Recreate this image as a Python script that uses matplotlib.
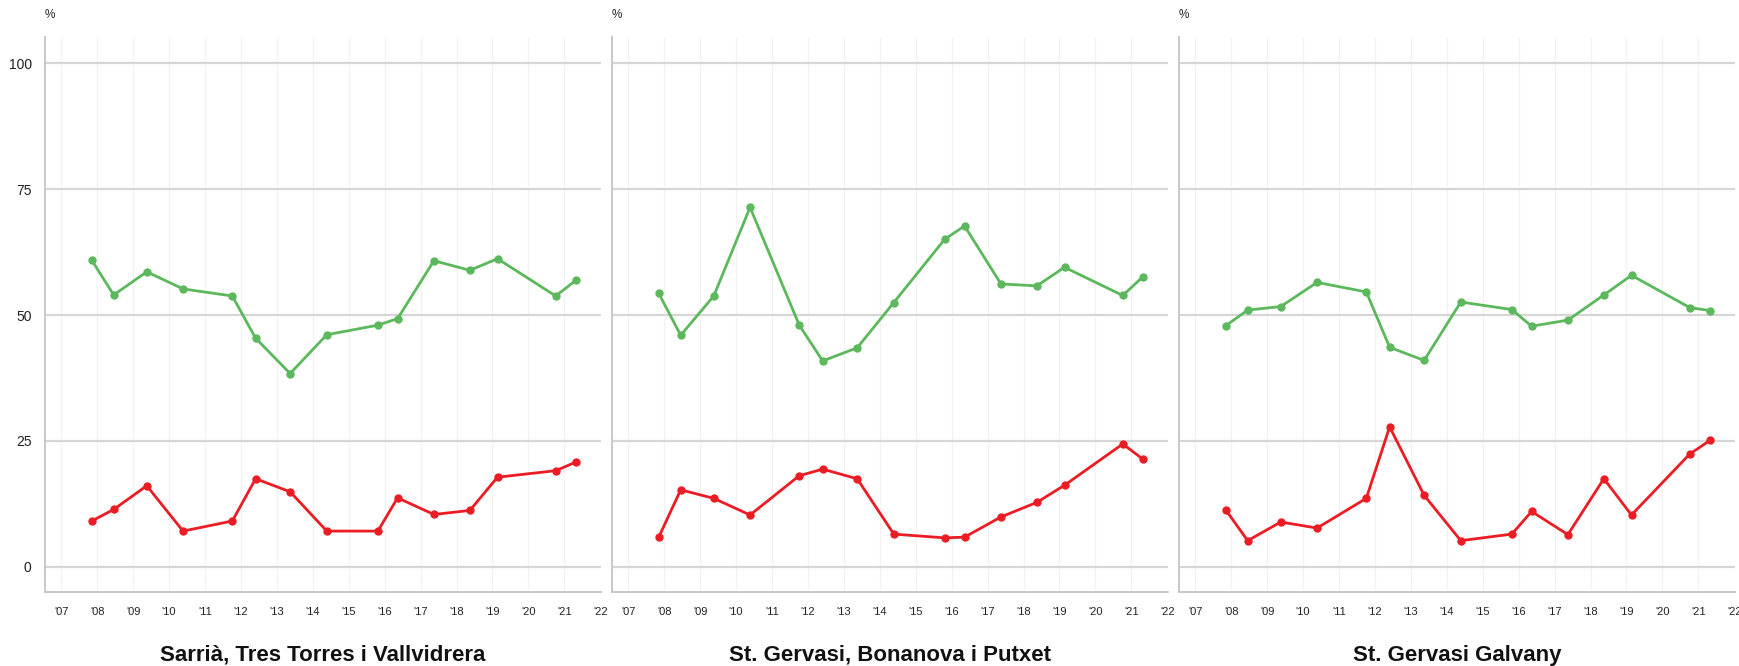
import matplotlib
matplotlib.use("Agg")
import matplotlib.pyplot as plt
from matplotlib.transforms import ScaledTranslation

plt.rcParams['font.family'] = ['Liberation Sans', 'DejaVu Sans']

# survey dates (fractional years)
dates = [2007.85, 2008.46, 2009.38, 2010.39, 2011.76, 2012.41, 2013.37, 2014.39,
         2015.81, 2016.36, 2017.37, 2018.37, 2019.14, 2020.76, 2021.32]

titles = ["Sarrià, Tres Torres i Vallvidrera",
          "St. Gervasi, Bonanova i Putxet",
          "St. Gervasi Galvany"]

green_sarria = [60.9, 54.0, 58.6, 55.2, 53.8, 45.4, 38.4, 46.1, 48.0, 49.3, 60.8, 58.9, 61.2, 53.8, 56.9]
red_sarria = [9.1, 11.4, 16.1, 7.1, 9.1, 17.5, 14.9, 7.1, 7.1, 13.7, 10.4, 11.2, 17.8, 19.1, 20.8]

green_bonanova = [54.3, 46.0, 53.8, 71.4, 48.0, 40.9, 43.5, 52.5, 65.1, 67.7, 56.2, 55.8, 59.5, 53.9, 57.6]
red_bonanova = [5.9, 15.3, 13.6, 10.3, 18.1, 19.4, 17.5, 6.5, 5.75, 5.9, 9.9, 12.8, 16.2, 24.4, 21.4]

green_galvany = [47.9, 51.0, 51.7, 56.5, 54.6, 43.6, 41.0, 52.6, 51.1, 47.8, 49.0, 54.0, 57.9, 51.5, 50.9]
red_galvany = [11.3, 5.2, 8.9, 7.7, 13.6, 27.8, 14.2, 5.2, 6.5, 11.0, 6.4, 17.5, 10.3, 22.4, 25.1]

greens = [green_sarria, green_bonanova, green_galvany]
reds = [red_sarria, red_bonanova, red_galvany]

years = list(range(2007, 2023))
year_labels = ["'" + str(y)[2:] for y in years]
yticks = [0, 25, 50, 75, 100]

GREEN = "#5cb85c"
RED = "#ec1c24"

W, H = 1739, 666
fig = plt.figure(figsize=(W / 100, H / 100), dpi=100)

lefts_px = [44.7, 611.7, 1178.7]
width_px = 556.3
top_px, bottom_px = 36.7, 592
height_px = bottom_px - top_px

for i in range(3):
    ax = fig.add_axes([lefts_px[i] / W, 1 - bottom_px / H, width_px / W, height_px / H])
    ax.set_xlim(2006.54, 2022.02)
    ax.set_ylim(-5, 105.3)
    # faint vertical year grid
    for y in years[:-1]:
        ax.axvline(y, color="#f3f3f3", lw=0.9, zorder=0)
    for v in yticks:
        ax.axhline(v, color="#d6d6d6", lw=1.6, zorder=1)
    ax.plot(dates, greens[i], color=GREEN, lw=2.0, marker='o', ms=5, zorder=3)
    ax.plot(dates, reds[i], color=RED, lw=2.0, marker='o', ms=5, zorder=3)

    ax.set_xticks(years)
    ax.set_xticklabels(year_labels, fontsize=8, color="#222222")
    ax.tick_params(axis='x', length=0, pad=10.5)
    ax.set_yticks(yticks)
    if i == 0:
        ax.set_yticklabels([str(v) for v in yticks], fontsize=10, color="#222222")
        for lbl in ax.get_yticklabels():
            lbl.set_transform(lbl.get_transform() + ScaledTranslation(0, -6 / 100, fig.dpi_scale_trans))
    else:
        ax.set_yticklabels([])
    ax.tick_params(axis='y', length=0, pad=9.4)

    for s in ['top', 'right']:
        ax.spines[s].set_visible(False)
    for s in ['left', 'bottom']:
        ax.spines[s].set_color("#c8c8c8")
        ax.spines[s].set_linewidth(1.4)

    ax.text(5.5 / width_px, (bottom_px - 15) / height_px, '%',
            transform=ax.transAxes, fontsize=8.5, color="#222222", ha='center', va='center')

    cx = (lefts_px[i] + width_px / 2) / W
    fig.text(cx, 1 - 655 / H, titles[i], ha='center', va='center', fontsize=16,
             fontweight='bold', color="#111111")

fig.savefig("out.png", dpi=100, facecolor="white")
